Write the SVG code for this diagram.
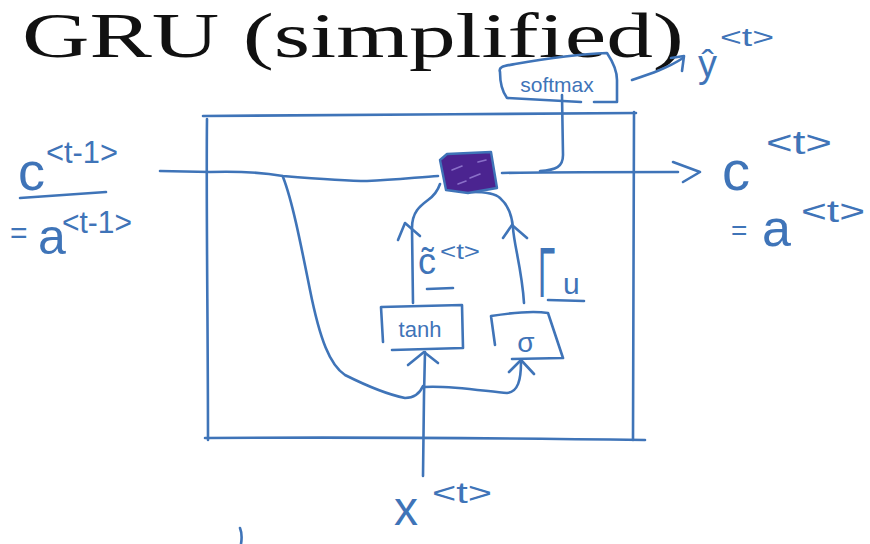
<svg xmlns="http://www.w3.org/2000/svg" width="870" height="544" viewBox="0 0 870 544">
<style>
.pen{fill:none;stroke:#3f74b8;stroke-width:2.6;stroke-linecap:round;stroke-linejoin:round}
.hw{fill:#3f74b8;font-family:"Liberation Sans","DejaVu Sans",sans-serif}
.title{fill:#111;font-family:"Liberation Serif","DejaVu Serif",serif}
</style>
<rect width="870" height="544" fill="#ffffff"/>
<text class="title" x="22" y="57" font-size="63" textLength="662" lengthAdjust="spacingAndGlyphs">GRU (simplified)</text>

<g id="cell">
<path class="pen" d="M203,116 C320,115 500,114 636,113"/>
<path class="pen" d="M207,119 C206,200 208,330 208,440"/>
<path class="pen" d="M205,438 C350,437 500,438 645,440"/>
<path class="pen" d="M634,112 C633,220 634,330 633,440"/>
</g>

<g id="connectors">
<path class="pen" d="M160,171 L210,172 C240,171 265,173 283,176 C320,179 345,181 367,181 C395,180 420,177 438,176"/>
<path class="pen" d="M502,173 C540,172 580,172 678,172"/>
<path class="pen" d="M673,162 L700,172 L683,182"/>
<path class="pen" d="M562,95 L563,155 C563,167 556,170 540,171"/>
<path class="pen" d="M632,80 C650,74 668,68 683,58"/>
<path class="pen" d="M671,58 L684,56 L682,71"/>
<path class="pen" d="M283,177 C292,200 300,240 310,290 C320,340 330,365 345,375 C365,385 390,395 405,398 C415,398 420,393 423,386"/>
<path class="pen" d="M423,476 L424,395 L425,352"/>
<path class="pen" d="M408,365 L424,352 L438,363"/>
<path class="pen" d="M424,387 C450,385 490,392 507,393 C518,392 521,380 521,362"/>
<path class="pen" d="M509,372 L521,360 L534,374"/>
<path class="pen" d="M413,303 L412,228 C412,212 420,206 428,200 C435,195 438,190 440,184"/>
<path class="pen" d="M398,240 L405,223 L420,236"/>
<path class="pen" d="M524,303 C522,270 514,245 513,228 C512,215 508,205 500,198 C495,193 485,192 472,192"/>
<path class="pen" d="M503,238 L512,225 L527,238"/>
</g>

<g id="gate">
<path d="M440,160 L447,154 L491,152 L497,188 L468,193 L446,190 Z" fill="#4b2490" stroke="#3f74b8" stroke-width="2.4" stroke-linejoin="round"/>
<path d="M452,170 L462,166 M470,178 L480,174 M458,184 L466,181 M478,162 L486,160" stroke="#8a70c8" stroke-width="1.6" stroke-linecap="round" fill="none"/>
</g>

<g id="softmax">
<path class="pen" d="M500,72 C498,66 505,66 515,64 C550,58 585,54 607,53 C613,62 617,72 617,80 L617,102 L594,102 M581,102 L507,98 C501,90 500,80 500,72"/>
<text class="hw" x="557" y="92" font-size="21" text-anchor="middle">softmax</text>
</g>

<g id="tanh">
<path class="pen" d="M383,342 L381,307 L462,305 L463,348 L392,350"/>
<text class="hw" x="420" y="337" font-size="22" text-anchor="middle">tanh</text>
</g>

<g id="sigma">
<path class="pen" d="M495,345 L491,316 C510,313 535,311 548,313 L563,358 L512,359"/>
<text class="hw" x="526" y="352" font-size="28" text-anchor="middle">σ</text>
</g>

<g id="labels">
<text class="hw" x="18" y="190" font-size="54">c</text>
<text class="hw" x="46" y="163" font-size="32" textLength="72" lengthAdjust="spacingAndGlyphs">&lt;t-1&gt;</text>
<path class="pen" d="M20,198 L106,192"/>
<text class="hw" x="10" y="243" font-size="30">=</text>
<text class="hw" x="38" y="254" font-size="50">a</text>
<text class="hw" x="62" y="233" font-size="32" textLength="70" lengthAdjust="spacingAndGlyphs">&lt;t-1&gt;</text>

<text class="hw" x="722" y="190" font-size="56">c</text>
<text class="hw" x="766" y="154" font-size="34" textLength="66" lengthAdjust="spacingAndGlyphs">&lt;t&gt;</text>
<text class="hw" x="731" y="240" font-size="28">=</text>
<text class="hw" x="762" y="246" font-size="52">a</text>
<text class="hw" x="801" y="222" font-size="32" textLength="64" lengthAdjust="spacingAndGlyphs">&lt;t&gt;</text>

<text class="hw" x="698" y="77" font-size="38">ŷ</text>
<text class="hw" x="720" y="46" font-size="26" textLength="54" lengthAdjust="spacingAndGlyphs">&lt;t&gt;</text>

<text class="hw" x="418" y="274" font-size="36" font-family="DejaVu Sans,sans-serif">c̃</text>
<text class="hw" x="440" y="259" font-size="22" textLength="40" lengthAdjust="spacingAndGlyphs">&lt;t&gt;</text>
<path class="pen" d="M427,289 L453,288"/>

<text class="hw" transform="translate(538,297) scale(0.45,1)" font-size="70">Γ</text>
<text class="hw" x="563" y="294" font-size="30">u</text>
<path class="pen" d="M548,300 L584,301"/>

<text class="hw" x="394" y="525" font-size="48">x</text>
<text class="hw" x="432" y="503" font-size="30" textLength="60" lengthAdjust="spacingAndGlyphs">&lt;t&gt;</text>

<path class="pen" d="M240,528 C242,533 242,538 241,544"/>
</g>
</svg>
